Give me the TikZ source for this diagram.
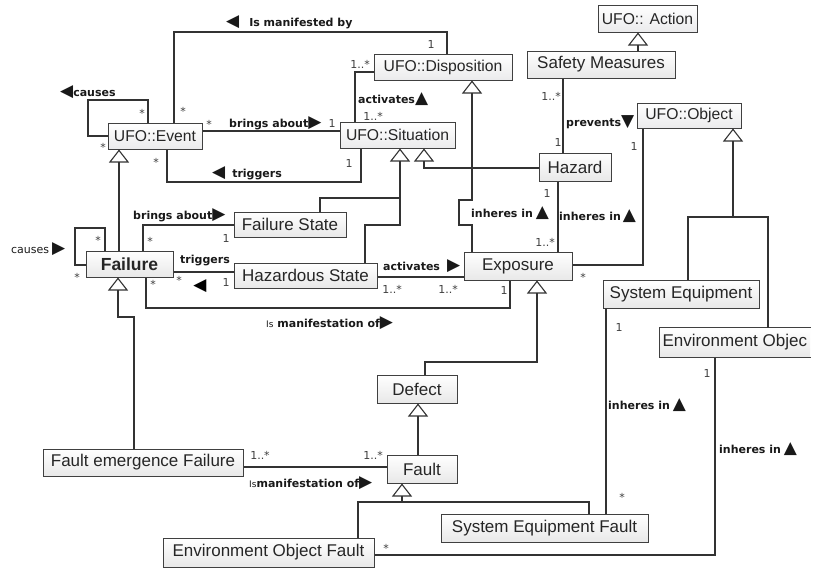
\documentclass[tikz,border=0pt]{standalone}
\usepackage{fontspec}
\setmainfont{Liberation Sans}
\newfontfamily\lblfont{DejaVu Sans}
\usetikzlibrary{arrows.meta}
\newcommand{\tri}[1]{{\lblfont\mdseries\fontsize{17}{17}\selectfont #1}}
\begin{document}
\begin{tikzpicture}[x=1pt,y=-1pt,
  box/.style={draw=black!75, line width=1pt, top color=white, bottom color=black!9, inner sep=0pt, font=\fontsize{17}{17}\selectfont, text=black!85},
  ufo/.style={box, bottom color=blue!6!black!8, font=\fontsize{15.7}{16}\selectfont},
  conn/.style={draw=black!80, line width=1.1pt},
  gen/.style={conn, -{Triangle[width=20pt,length=13pt,fill=white]}},
  lbl/.style={font=\lblfont\bfseries\fontsize{11}{11}\selectfont, text=black!90, inner sep=0pt, anchor=west},
  mult/.style={font=\lblfont\fontsize{11}{11}\selectfont, text=black!75, inner sep=0pt}]
\fill[white] (0,0) rectangle (813,568);
\useasboundingbox (0,0) rectangle (813,568);

% boxes
\node[ufo, minimum width=99pt, minimum height=27pt] (act) at (647.5,18.5) {UFO:: Action};
\node[box, minimum width=148pt, minimum height=27pt] (sm) at (601,64.5) {Safety Measures};
\node[ufo, minimum width=104pt, minimum height=25pt] (obj) at (689,115.5) {UFO::Object};
\node[ufo, minimum width=138pt, minimum height=26pt] (disp) at (443,67) {UFO::Disposition};
\node[ufo, minimum width=115pt, minimum height=26pt] (sit) at (397.5,135) {UFO::Situation};
\node[ufo, minimum width=94pt, minimum height=26pt] (ev) at (155,136) {UFO::Event};
\node[box, minimum width=72pt, minimum height=28pt] (haz) at (575,167) {Hazard};
\node[box, minimum width=112pt, minimum height=25pt] (fs) at (290,224.5) {Failure State};
\node[box, minimum width=87pt, minimum height=26pt, font=\bfseries\fontsize{17.5}{18}\selectfont] (fail) at (129.5,264) {Failure};
\node[box, minimum width=143pt, minimum height=25pt] (hzs) at (305.5,275.5) {Hazardous State};
\node[box, minimum width=108pt, minimum height=28pt] (exp) at (518,266) {Exposure};
\node[box, minimum width=156pt, minimum height=28pt] (se) at (681,294) {System Equipment};
\node[box, draw=none, minimum height=29pt, anchor=west, inner xsep=3pt] (eo) at (659,342.5) {Environment Objec\hspace{30pt}};
\draw[draw=black!75, line width=1pt] (eo.north east) -- (eo.north west) -- (eo.south west) -- (eo.south east);
\node[box, minimum width=80pt, minimum height=28pt] (def) at (417,389) {Defect};
\node[box, minimum width=70pt, minimum height=28pt] (fault) at (422,469) {Fault};
\node[box, minimum width=200pt, minimum height=27pt] (fef) at (143,462.5) {Fault emergence Failure};
\node[box, minimum width=207pt, minimum height=28pt] (sef) at (544.5,528) {System Equipment Fault};
\node[box, minimum width=211pt, minimum height=29pt] (eof) at (268.5,552.5) {Environment Object Fault};

% Event is manifested by Disposition
\draw[conn] (ev.north -| 174,0) -- (174,32) -- (447,32) -- (disp.north -| 447,0);
\node[lbl] (l1) at (226,22) {\tri{◀}\hspace{10pt}Is manifested by};
\node[mult] (m1) at (183,111) {*};
\node[mult] (m2) at (431,44) {1};

% Event causes (self)
\draw[conn] (ev.north -| 148,0) -- (148,100) -- (88,100) -- (88,136) -- (ev.west |- 0,136);
\node[lbl] (l2) at (60,92) {\tri{◀}causes};
\node[mult] (m3) at (142,113) {*};
\node[mult] (m4) at (103,147) {*};

% Event brings about Situation
\draw[conn] (ev.east |- 0,131) -- (sit.west |- 0,131);
\node[lbl] (l3) at (229,123) {brings about\tri{▶}};
\node[mult] (m5) at (209,124) {*};
\node[mult] (m6) at (332,123) {1};

% Situation triggers Event
\draw[conn] (ev.south -| 167,0) -- (167,182) -- (361,182) -- (sit.south -| 361,0);
\node[lbl] (l4) at (212,173) {\tri{◀}\hspace{7pt}triggers};
\node[mult] (m7) at (156,162) {*};
\node[mult] (m8) at (349,163) {1};

% Situation activates Disposition
\draw[conn] (sit.north -| 355,0) -- (355,72) -- (disp.west |- 0,72);
\node[lbl] (l5) at (358,99) {activates\tri{▲}};
\node[mult] (m9) at (360,64) {1..*};
\node[mult] (m10) at (373,116) {1..*};

% generalisations to Disposition, Situation
\draw[gen] (exp.north -| 472,0) -- (472,225) -- (459,225) -- (459,200) -- (472,200) -- (disp.south -| 472,0);
\draw[gen] (haz.west |- 0,168) -- (424,168) -- (sit.south -| 424,0);
\coordinate (j1) at (400,198);
\draw[gen] (fs.north -| 320,0) -- (320,198) -- (j1) -- (sit.south -| 400,0);
\draw[conn] (hzs.north -| 365,0) -- (365,225) -- (400,225) -- (j1);

% Failure is an Event
\draw[gen] (fail.north -| 119,0) -- (ev.south -| 119,0);

% Failure causes (self)
\draw[conn] (fail.north -| 105,0) -- (105,228) -- (75,228) -- (75,265) -- (fail.west |- 0,265);
\node[lbl, font=\lblfont\fontsize{11}{11}\selectfont] (l6) at (11,249) {causes\hspace{3pt}\tri{▶}};
\node[mult] (m11) at (98,240) {*};
\node[mult] (m12) at (77,277) {*};

% Failure brings about Failure State
\draw[conn] (fail.north -| 143,0) -- (143,225) -- (fs.west |- 0,225);
\node[lbl] (l7) at (133,215) {brings about\tri{▶}};
\node[mult] (m13) at (150,241) {*};
\node[mult] (m14) at (226,238) {1};

% Hazardous State triggers Failure
\draw[conn] (fail.east |- 0,272) -- (hzs.west |- 0,272);
\node[lbl, anchor=center] (l8) at (205,261) {triggers};
\node[inner sep=0pt] (l8t) at (200,286) {\tri{◀}};
\node[mult] (m15) at (179,280) {*};
\node[mult] (m16) at (226,282) {1};

% Failure is manifestation of Exposure
\draw[conn] (fail.south -| 146,0) -- (146,308) -- (510,308) -- (exp.south -| 510,0);
\node[lbl] (l9) at (266,323) {{\mdseries\fontsize{9}{9}\selectfont Is} manifestation of\tri{▶}};
\node[mult] (m17) at (153,284) {*};
\node[mult] (m18) at (504,290) {1};

% Hazardous State activates Exposure
\draw[conn] (hzs.east |- 0,277) -- (exp.west |- 0,277);
\node[lbl] (l10) at (383,266) {activates\hspace{7pt}\tri{▶}};
\node[mult] (m19) at (392,289) {1..*};
\node[mult] (m20) at (448,289) {1..*};

% Exposure inheres in Hazard
\draw[conn] (haz.south -| 558,0) -- (exp.north -| 558,0);
\node[lbl] (l11) at (471,213) {inheres in\hspace{3pt}\tri{▲}};
\node[mult] (m21) at (547,193) {1};
\node[mult] (m22) at (545,242) {1..*};

% Exposure inheres in Object
\draw[conn] (exp.east |- 0,265) -- (643,265) -- (obj.south -| 643,0);
\node[lbl] (l12) at (559,216) {inheres in\hspace{2pt}\tri{▲}};
\node[mult] (m23) at (634,146) {1};
\node[mult] (m24) at (583,277) {*};

% Safety Measures prevents Hazard
\draw[conn] (sm.south -| 563,0) -- (haz.north -| 563,0);
\node[lbl] (l13) at (566,122) {prevents\tri{▼}};
\node[mult] (m25) at (551,96) {1..*};
\node[mult] (m26) at (558,142) {1};

% Safety Measures is an Action
\draw[gen] (sm.north -| 638,0) -- (act.south -| 638,0);

% Defect is an Exposure, Fault is a Defect
\draw[gen] (def.north -| 425,0) -- (425,362) -- (537,362) -- (exp.south -| 537,0);
\draw[gen] (fault.north -| 418,0) -- (def.south -| 418,0);

% Fault emergence Failure is a Failure
\draw[gen] (fef.north -| 134,0) -- (134,317) -- (118,317) -- (fail.south -| 118,0);

% Fault emergence Failure is manifestation of Fault
\draw[conn] (fef.east |- 0,467) -- (fault.west |- 0,467);
\node[lbl] (l14) at (249,483) {{\mdseries\fontsize{9}{9}\selectfont Is}manifestation of\tri{▶}};
\node[mult] (m27) at (260,455) {1..*};
\node[mult] (m28) at (373,455) {1..*};

% faults are Faults
\coordinate (j2) at (402,502);
\draw[gen] (eof.north -| 358,0) -- (358,502) -- (j2) -- (fault.south -| 402,0);
\draw[conn] (sef.north -| 589,0) -- (589,502) -- (j2);

% System Equipment Fault inheres in System Equipment
\draw[conn] (se.south -| 606,0) -- (sef.north -| 606,0);
\node[lbl] (l15) at (608,405) {inheres in\hspace{3pt}\tri{▲}};
\node[mult] (m29) at (619,327) {1};
\node[mult] (m30) at (622,497) {*};

% Environment Object Fault inheres in Environment Object
\draw[conn] (eo.south -| 715,0) -- (715,555) -- (eof.east |- 0,555);
\node[lbl] (l16) at (719,449) {inheres in\hspace{3pt}\tri{▲}};
\node[mult] (m31) at (707,373) {1};
\node[mult] (m32) at (386,548) {*};

% System Equipment, Environment Object are Objects
\coordinate (j3) at (733,217);
\draw[gen] (se.north -| 688,0) -- (688,217) -- (j3) -- (obj.south -| 733,0);
\draw[conn] (eo.north -| 768,0) -- (768,217) -- (j3);
\end{tikzpicture}
\end{document}
